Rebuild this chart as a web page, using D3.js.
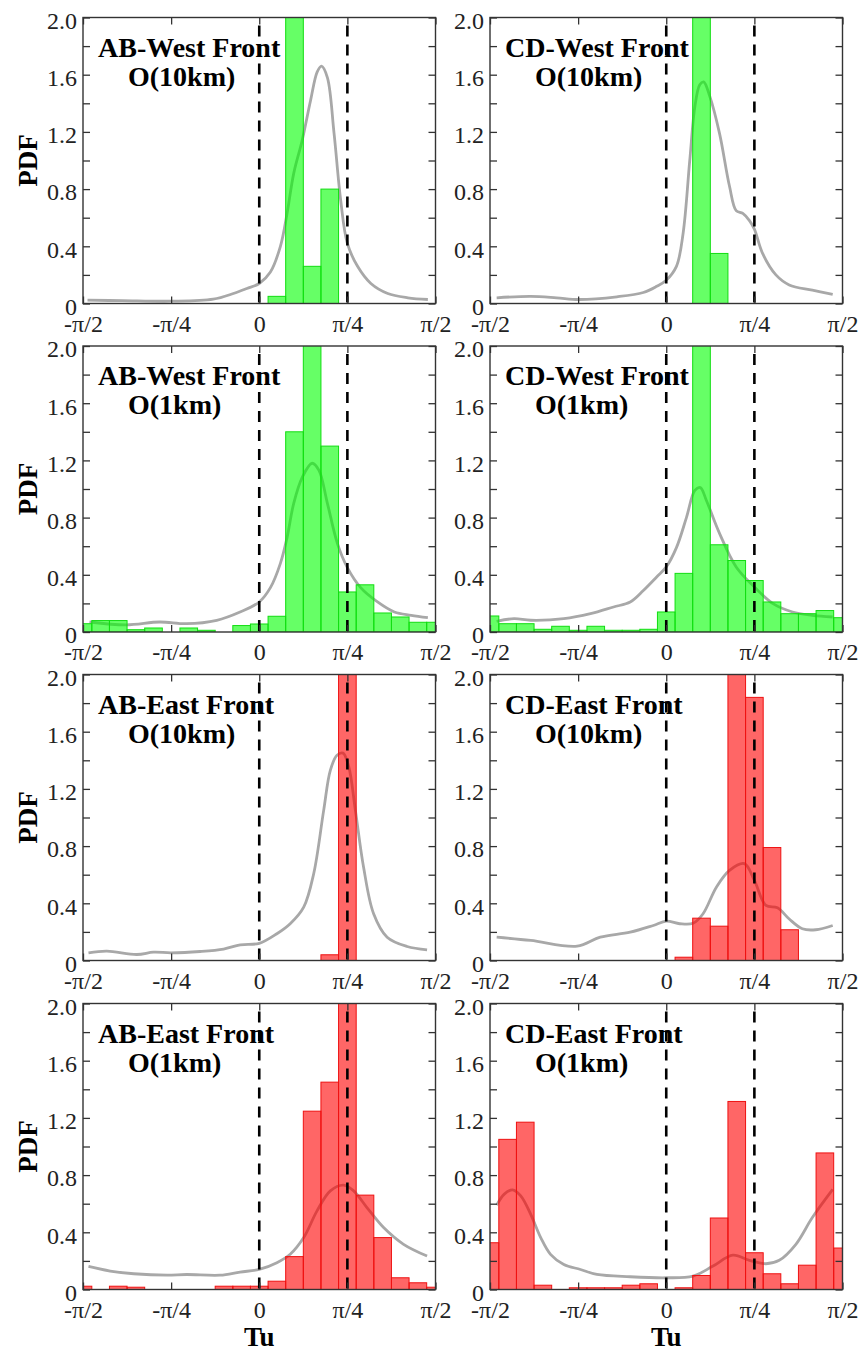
<!DOCTYPE html>
<html>
<head>
<meta charset="utf-8">
<script src="https://cdn.jsdelivr.net/npm/d3@7"></script>
<style>
  body { margin: 0; background: #fff; }
  text { font-family: "Liberation Serif", "Times New Roman", serif; }
</style>
</head>
<body>
<div id="chart"></div>
<script>
// Tu in degrees, bins are pi/20 wide and centred on -pi/2 ... pi/2
const binCenters = [-90,-81,-72,-63,-54,-45,-36,-27,-18,-9,0,9,18,27,36,45,54,63,72,81,90];

// histogram PDF values, one per bin (tall bars run off the top of the panel)
const abWest10 = [0,0,0,0,0,0,0,0,0,0,0,0.05,5.3,0.26,0.80,0,0,0,0,0,0];
const cdWest10 = [0,0,0,0,0,0,0,0,0,0,0,0,6.0,0.35,0,0,0,0,0,0,0];
const abWest1  = [0.058,0.08,0.08,0.016,0.028,0,0.028,0.012,0,0.045,0.056,0.11,1.40,2.2,1.30,0.28,0.33,0.133,0.105,0.068,0.068];
const cdWest1  = [0.112,0.058,0.058,0.019,0.04,0.012,0.04,0.012,0.012,0.019,0.14,0.41,3.25,0.61,0.50,0.36,0.21,0.128,0.128,0.15,0.10];
const abEast10 = [0,0,0,0,0,0,0,0,0,0,0,0,0,0,0.04,6.3,0,0,0,0,0];
const cdEast10 = [0,0,0,0,0,0,0,0,0,0,0,0.023,0.296,0.24,2.97,1.84,0.79,0.215,0,0,0];
const abEast1  = [0.023,0,0.023,0.016,0,0,0,0,0.023,0.023,0.023,0.058,0.23,1.247,1.45,2.1,0.66,0.363,0.082,0.047,0.016];
const cdEast1  = [0.327,1.05,1.17,0.03,0,0.012,0.012,0.012,0.03,0.04,0,0.012,0.098,0.50,1.315,0.257,0.11,0.04,0.17,0.955,0.29];

// smoothed PDF curves [Tu (deg), PDF]
const abWest10Kde = [[-87.7,0.023],[-70,0.02],[-45.2,0.016],[-23.5,0.03],[-13.2,0.07],[-6.3,0.105],[0,0.14],[5.7,0.22],[10.8,0.40],[14.2,0.63],[17.6,0.91],[21.9,1.14],[26.2,1.42],[29.6,1.62],[31.8,1.66],[34.8,1.58],[38.2,1.19],[41.6,0.72],[45,0.42],[50.2,0.26],[57,0.14],[65.6,0.07],[75.9,0.04],[86.1,0.028]];
const cdWest10Kde = [[-86.6,0.04],[-69.2,0.05],[-56,0.04],[-44.7,0.028],[-25.2,0.047],[-11.7,0.077],[-4.9,0.12],[0,0.163],[5.2,0.26],[8.6,0.49],[12,1.0],[14.6,1.375],[17.1,1.53],[19.1,1.55],[22.2,1.45],[27.2,1.19],[32.3,0.82],[35.7,0.65],[39.1,0.63],[42.5,0.58],[45,0.52],[49.2,0.35],[56,0.20],[62.8,0.13],[74.6,0.093],[85,0.063]];
const abWest1Kde  = [[-86.7,0.07],[-67.9,0.05],[-50.8,0.07],[-37.2,0.058],[-21.7,0.082],[-9.8,0.14],[0,0.21],[5.7,0.31],[10.8,0.48],[14.2,0.66],[17.6,0.90],[21.9,1.08],[27,1.18],[30.5,1.13],[34.8,0.90],[39.9,0.62],[45,0.45],[51.8,0.31],[60.4,0.21],[69,0.14],[77.6,0.117],[86.1,0.10]];
const cdWest1Kde  = [[-86.6,0.075],[-77.7,0.093],[-69.2,0.082],[-52.3,0.093],[-38.7,0.128],[-26.9,0.175],[-18.4,0.21],[-11.7,0.29],[-4.9,0.385],[0,0.455],[5.2,0.59],[10.3,0.80],[14.6,0.99],[17.4,1.01],[20.5,0.92],[27.2,0.69],[35.7,0.455],[45,0.315],[54.3,0.20],[64.5,0.14],[74.6,0.117],[85,0.105]];
const abEast10Kde = [[-87.2,0.054],[-77.8,0.065],[-62.5,0.042],[-54,0.058],[-45,0.054],[-30.2,0.063],[-18.2,0.08],[-9.7,0.11],[0,0.12],[9,0.187],[15.8,0.257],[22.7,0.373],[27.8,0.607],[32.9,1.05],[36.3,1.33],[39.7,1.435],[42.8,1.45],[45.7,1.355],[49.1,1.05],[53.3,0.65],[58.4,0.327],[65.3,0.163],[75.5,0.098],[85.7,0.075]];
const cdEast10Kde = [[-86.6,0.163],[-69.2,0.14],[-45.5,0.10],[-33.7,0.163],[-18.4,0.198],[-6.6,0.245],[0,0.275],[6.9,0.257],[13.7,0.26],[18.8,0.327],[25.6,0.513],[32.3,0.63],[39.9,0.677],[45,0.56],[50.9,0.385],[56.8,0.369],[62.8,0.29],[69.5,0.222],[76.3,0.215],[85,0.245]];
const abEast1Kde  = [[-87.2,0.161],[-76.1,0.129],[-64.1,0.11],[-47.1,0.10],[-37.1,0.105],[-20,0.10],[-9.8,0.122],[0,0.14],[9,0.187],[15.8,0.246],[22.7,0.363],[29.5,0.55],[36.3,0.69],[43.1,0.73],[48.2,0.69],[55,0.573],[63.5,0.433],[73.7,0.316],[85.7,0.234]];
const cdEast1Kde  = [[-86.6,0.59],[-82.7,0.667],[-78.5,0.697],[-74.3,0.655],[-69.2,0.526],[-64.1,0.363],[-59.1,0.246],[-52.3,0.175],[-43.8,0.14],[-35.4,0.105],[-18.4,0.089],[0,0.082],[13.7,0.094],[23.9,0.164],[34,0.24],[42.5,0.204],[50.9,0.18],[57.7,0.204],[66.2,0.316],[74.6,0.503],[85,0.70]];

// ticks
const xTickValues = [-90, -45, 0, 45, 90];
const xTickLabels = ["-\u03c0/2", "-\u03c0/4", "0", "\u03c0/4", "\u03c0/2"];
const yTickValues = [0, 0.2, 0.4, 0.6, 0.8, 1.0, 1.2, 1.4, 1.6, 1.8, 2.0];
const yTickLabels = ["0", "", "0.4", "", "0.8", "", "1.2", "", "1.6", "", "2.0"];
const dashedAt = [0, 45];

const titles = [
  ["AB-West Front", "O(10km)"], ["CD-West Front", "O(10km)"],
  ["AB-West Front", "O(1km)"],  ["CD-West Front", "O(1km)"],
  ["AB-East Front", "O(10km)"], ["CD-East Front", "O(10km)"],
  ["AB-East Front", "O(1km)"],  ["CD-East Front", "O(1km)"]
];
const hists = [abWest10, cdWest10, abWest1, cdWest1, abEast10, cdEast10, abEast1, cdEast1];
const kdes = [abWest10Kde, cdWest10Kde, abWest1Kde, cdWest1Kde, abEast10Kde, cdEast10Kde, abEast1Kde, cdEast1Kde];

// layout
const width = 862, height = 1353;
const colX = [83, 490];
const rowY = [17.5, 346, 674.5, 1003.5];
const pw = 352.5, ph = 286;
const serif = '"Liberation Serif", "Times New Roman", serif';

const svg = d3.select("#chart").append("svg")
  .attr("width", width)
  .attr("height", height);

const xScale = d3.scaleLinear().domain([-90, 90]).range([0, pw]);
const yScale = d3.scaleLinear().domain([0, 2]).range([ph, 0]);

hists.forEach((vals, i) => {
  const row = Math.floor(i / 2), col = i % 2;
  const east = row >= 2;
  const fill = east ? "#ff0000" : "#00ff00";
  const stroke = east ? "#ee1111" : "#11dd11";

  const g = svg.append("g")
    .attr("transform", `translate(${colX[col]},${rowY[row]})`);

  const clipId = "clip" + i;
  g.append("clipPath").attr("id", clipId)
    .append("rect").attr("width", pw).attr("height", ph);

  const plot = g.append("g").attr("clip-path", `url(#${clipId})`);

  // smoothed curve
  plot.append("path")
    .datum(kdes[i])
    .attr("fill", "none")
    .attr("stroke", "#a8a8a8")
    .attr("stroke-width", 2.8)
    .attr("d", d3.line()
      .x(d => xScale(d[0]))
      .y(d => yScale(d[1]))
      .curve(d3.curveCatmullRom.alpha(0.5)));

  // histogram bars
  const bars = binCenters.map((c, k) => ({c: c, v: vals[k]})).filter(d => d.v > 0);
  plot.selectAll("rect.bar")
    .data(bars)
    .join("rect")
    .attr("class", "bar")
    .attr("x", d => xScale(d.c - 4.5))
    .attr("width", d => xScale(d.c + 4.5) - xScale(d.c - 4.5))
    .attr("y", d => yScale(Math.min(d.v, 2.1)))
    .attr("height", d => yScale(0) - yScale(Math.min(d.v, 2.1)))
    .attr("fill", fill)
    .attr("fill-opacity", 0.6)
    .attr("stroke", stroke)
    .attr("stroke-width", 1);

  // panel title
  g.append("text")
    .attr("x", 15).attr("y", 39)
    .attr("font-size", 28).attr("font-weight", "bold")
    .text(titles[i][0]);
  g.append("text")
    .attr("x", 45).attr("y", 68)
    .attr("font-size", 28).attr("font-weight", "bold")
    .text(titles[i][1]);

  // dashed reference lines
  g.selectAll("line.ref")
    .data(dashedAt)
    .join("line")
    .attr("class", "ref")
    .attr("x1", d => xScale(d)).attr("x2", d => xScale(d))
    .attr("y1", 0).attr("y2", ph)
    .attr("stroke", "#000")
    .attr("stroke-width", 2.6)
    .attr("stroke-dasharray", "11,8")
    .attr("stroke-dashoffset", -8);

  // axes (inward ticks)
  const left = g.append("g")
    .call(d3.axisLeft(yScale).tickValues(yTickValues)
      .tickSizeInner(-7).tickSizeOuter(0).tickPadding(6)
      .tickFormat((d, k) => yTickLabels[k]));
  const right = g.append("g").attr("transform", `translate(${pw},0)`)
    .call(d3.axisRight(yScale).tickValues(yTickValues)
      .tickSizeInner(-7).tickSizeOuter(0).tickFormat(""));
  const top = g.append("g")
    .call(d3.axisTop(xScale).tickValues(xTickValues)
      .tickSizeInner(-7).tickSizeOuter(0).tickFormat(""));
  const bottom = g.append("g").attr("transform", `translate(0,${ph})`)
    .call(d3.axisBottom(xScale).tickValues(xTickValues)
      .tickSizeInner(-7).tickSizeOuter(0).tickPadding(11)
      .tickFormat((d, k) => xTickLabels[k]));

  [left, right, top, bottom].forEach(a => {
    a.attr("font-family", serif);
    a.select(".domain").remove();
    a.selectAll("line").attr("stroke", "#333").attr("stroke-width", 1.3);
    a.selectAll("text")
      .attr("font-size", 24)
      .attr("fill", "#222")
      .style("font-family", serif);
  });
  left.selectAll("text").attr("dy", "0.45em");

  // frame
  g.append("rect")
    .attr("width", pw).attr("height", ph)
    .attr("fill", "none")
    .attr("stroke", "#333")
    .attr("stroke-width", 1.4);

  // axis titles
  if (col === 0) {
    svg.append("text")
      .attr("transform", `translate(37,${rowY[row] + ph / 2}) rotate(-90)`)
      .attr("text-anchor", "middle")
      .attr("font-size", 27).attr("font-weight", "bold")
      .text("PDF");
  }
  if (row === 3) {
    svg.append("text")
      .attr("x", colX[col] + pw / 2)
      .attr("y", rowY[row] + ph + 56)
      .attr("text-anchor", "middle")
      .attr("font-size", 27).attr("font-weight", "bold")
      .text("Tu");
  }
});
</script>
</body>
</html>
